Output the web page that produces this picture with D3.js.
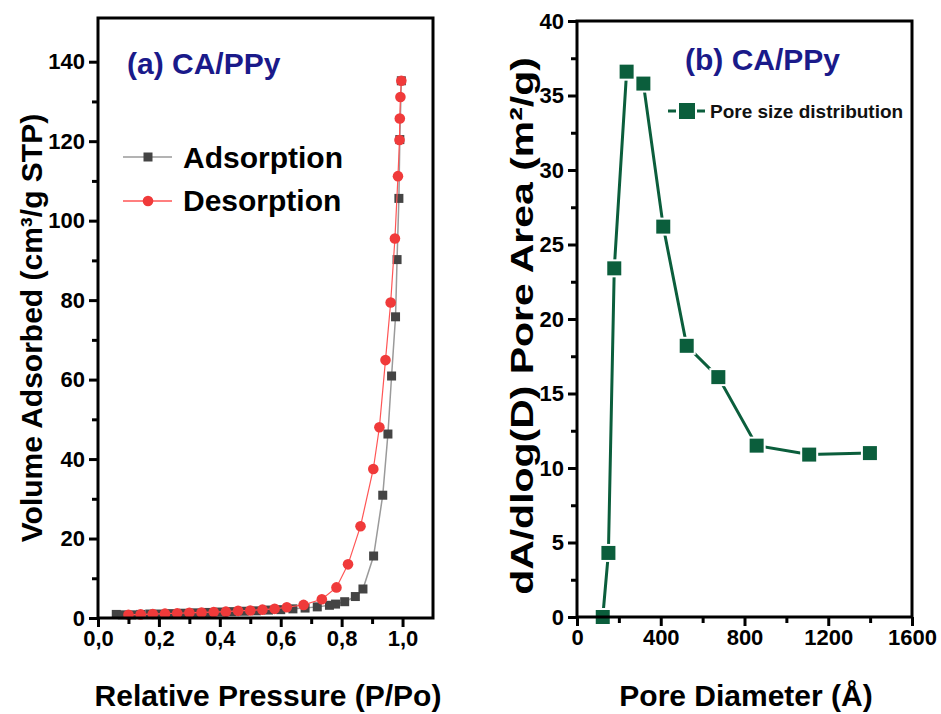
<!DOCTYPE html>
<html>
<head>
<meta charset="utf-8">
<script src="https://cdn.jsdelivr.net/npm/d3@7"></script>
<style>
  html, body { margin: 0; padding: 0; background: #fff; }
  svg { display: block; font-family: "Liberation Sans", Arial, sans-serif; }
</style>
</head>
<body>
<svg id="chart" width="941" height="714"></svg>
<script>
// Nitrogen isotherm of CA/PPy (panel a)
const adsP = [0.06, 0.08, 0.11, 0.14, 0.17, 0.20, 0.24, 0.28, 0.32, 0.36, 0.40, 0.44, 0.48, 0.52, 0.56, 0.60, 0.64, 0.68, 0.72, 0.76, 0.78, 0.81, 0.845, 0.87, 0.905, 0.935, 0.952, 0.964, 0.977, 0.982, 0.988, 0.991, 0.996];
const adsV = [0.9, 0.8, 0.8, 0.9, 1.0, 1.0, 1.1, 1.2, 1.3, 1.4, 1.5, 1.6, 1.7, 1.8, 2.0, 2.1, 2.3, 2.5, 2.8, 3.2, 3.5, 4.1, 5.4, 7.3, 15.6, 30.9, 46.3, 60.9, 75.8, 90.2, 105.6, 120.4, 135.2];
const desP = [0.10, 0.14, 0.18, 0.22, 0.26, 0.30, 0.34, 0.38, 0.42, 0.46, 0.50, 0.54, 0.58, 0.62, 0.675, 0.735, 0.783, 0.821, 0.862, 0.904, 0.924, 0.944, 0.961, 0.975, 0.985, 0.990, 0.991, 0.993, 0.996];
const desV = [0.8, 0.9, 1.0, 1.1, 1.2, 1.3, 1.4, 1.5, 1.6, 1.8, 1.9, 2.1, 2.3, 2.7, 3.3, 4.7, 7.7, 13.5, 23.1, 37.5, 48.0, 64.9, 79.4, 95.5, 111.2, 120.3, 125.7, 131.1, 135.2];

// Pore size distribution (panel b)
const poreDiam = [123, 150, 178, 237, 317, 412, 524, 675, 858, 1109, 1399];
const poreArea = [0.0, 4.3, 23.4, 36.6, 35.8, 26.2, 18.2, 16.1, 11.5, 10.9, 11.0];

// Tick values
const aXMajor = [0, 0.2, 0.4, 0.6, 0.8, 1.0];
const aXMinor = [0.1, 0.3, 0.5, 0.7, 0.9];
const aYMajor = [0, 20, 40, 60, 80, 100, 120, 140];
const aYMinor = [10, 30, 50, 70, 90, 110, 130];
const bXMajor = [0, 400, 800, 1200, 1600];
const bXMinor = [200, 600, 1000, 1400];
const bYMajor = [0, 5, 10, 15, 20, 25, 30, 35, 40];
const bYMinor = [2.5, 7.5, 12.5, 17.5, 22.5, 27.5, 32.5, 37.5];

const svg = d3.select("#chart");
const commaFmt = d3.formatLocale({decimal: ",", thousands: ".", grouping: [3], currency: ["", ""]}).format(".1f");

const AXIS_W = 3;
const TICK_FONT = "bold 22px 'Liberation Sans', Arial, sans-serif";
const LABEL_FONT = "bold 30px 'Liberation Sans', Arial, sans-serif";

function frame(g, x0, x1, y0, y1) {
  g.append("rect")
    .attr("x", x0).attr("y", y0)
    .attr("width", x1 - x0).attr("height", y1 - y0)
    .attr("fill", "none").attr("stroke", "#000").attr("stroke-width", AXIS_W);
}

function drawAxes(g, x, y, xMajor, xMinor, yMajor, yMinor, xFmt, yFmt) {
  const [xl, xr] = x.range();
  const [yb, yt] = y.range();
  // minor ticks (no labels)
  g.append("g").attr("transform", `translate(0,${yb})`)
    .call(d3.axisBottom(x).tickValues(xMinor).tickSize(6).tickFormat(""))
    .call(s => s.select(".domain").remove())
    .call(s => s.selectAll("line").attr("stroke-width", AXIS_W));
  g.append("g").attr("transform", `translate(${xl},0)`)
    .call(d3.axisLeft(y).tickValues(yMinor).tickSize(6).tickFormat(""))
    .call(s => s.select(".domain").remove())
    .call(s => s.selectAll("line").attr("stroke-width", AXIS_W));
  // major ticks with labels
  g.append("g").attr("transform", `translate(0,${yb})`)
    .call(d3.axisBottom(x).tickValues(xMajor).tickSize(9).tickPadding(3).tickFormat(xFmt))
    .call(s => s.select(".domain").remove())
    .call(s => s.selectAll("line").attr("stroke-width", AXIS_W))
    .call(s => s.selectAll("text").attr("fill", "#000").style("font", TICK_FONT));
  g.append("g").attr("transform", `translate(${xl},0)`)
    .call(d3.axisLeft(y).tickValues(yMajor).tickSize(9).tickPadding(4).tickFormat(yFmt))
    .call(s => s.select(".domain").remove())
    .call(s => s.selectAll("line").attr("stroke-width", AXIS_W))
    .call(s => s.selectAll("text").attr("fill", "#000").style("font", TICK_FONT));
  frame(g, xl, xr, yt, yb);
}

// ---------- Panel (a): isotherm ----------
const ga = svg.append("g");
const xa = d3.scaleLinear().domain([0, 1.1]).range([98, 433]);
const ya = d3.scaleLinear().domain([0, 151]).range([618, 18]);

const adsData = adsP.map((p, i) => ({p, v: adsV[i]}));
const desData = desP.map((p, i) => ({p, v: desV[i]}));
const lineA = d3.line().x(d => xa(d.p)).y(d => ya(d.v));

ga.append("path").datum(adsData).attr("d", lineA)
  .attr("fill", "none").attr("stroke", "#9a9a9a").attr("stroke-width", 1.5);
ga.append("g").selectAll("rect").data(adsData).join("rect")
  .attr("x", d => xa(d.p) - 4.5).attr("y", d => ya(d.v) - 4.5)
  .attr("width", 9).attr("height", 9).attr("fill", "#444");

ga.append("path").datum(desData).attr("d", lineA)
  .attr("fill", "none").attr("stroke", "#ff5555").attr("stroke-width", 1.2);
ga.append("g").selectAll("circle").data(desData).join("circle")
  .attr("cx", d => xa(d.p)).attr("cy", d => ya(d.v)).attr("r", 5.3)
  .attr("fill", "#f03a3a");

drawAxes(ga, xa, ya, aXMajor, aXMinor, aYMajor, aYMinor, d => commaFmt(d), d3.format("d"));

ga.append("text").attr("x", 127).attr("y", 74)
  .attr("fill", "#1a1a8a").style("font", LABEL_FONT)
  .text("(a) CA/PPy");

// legend (a)
const legA = ga.append("g");
legA.append("line").attr("x1", 123).attr("x2", 172).attr("y1", 157).attr("y2", 157)
  .attr("stroke", "#9a9a9a").attr("stroke-width", 1.5);
legA.append("rect").attr("x", 143.5).attr("y", 152.5).attr("width", 9).attr("height", 9).attr("fill", "#444");
legA.append("text").attr("x", 183).attr("y", 168).attr("fill", "#000")
  .style("font", LABEL_FONT).text("Adsorption");
legA.append("line").attr("x1", 123).attr("x2", 172).attr("y1", 201).attr("y2", 201)
  .attr("stroke", "#ff5555").attr("stroke-width", 1.5);
legA.append("circle").attr("cx", 148).attr("cy", 201).attr("r", 5.3).attr("fill", "#f03a3a");
legA.append("text").attr("x", 183).attr("y", 211).attr("fill", "#000")
  .style("font", LABEL_FONT).text("Desorption");

ga.append("text").attr("x", 268).attr("y", 706).attr("text-anchor", "middle")
  .attr("fill", "#000").style("font", LABEL_FONT)
  .text("Relative Pressure (P/Po)");
ga.append("text").attr("transform", "translate(42,328) rotate(-90)").attr("text-anchor", "middle")
  .attr("fill", "#000").style("font", LABEL_FONT)
  .text("Volume Adsorbed (cm³/g STP)");

// ---------- Panel (b): pore size distribution ----------
const gb = svg.append("g");
const xb = d3.scaleLinear().domain([0, 1600]).range([577, 912]);
const yb = d3.scaleLinear().domain([0, 40]).range([617, 21]);
const GREEN = "#0b5e3c";

const poreData = poreDiam.map((d, i) => ({d, a: poreArea[i]}));
gb.append("path").datum(poreData)
  .attr("d", d3.line().x(d => xb(d.d)).y(d => yb(d.a)))
  .attr("fill", "none").attr("stroke", GREEN).attr("stroke-width", 3);
gb.append("g").selectAll("rect").data(poreData).join("rect")
  .attr("x", d => xb(d.d) - 8).attr("y", d => yb(d.a) - 8)
  .attr("width", 16).attr("height", 16)
  .attr("fill", GREEN).attr("stroke", "#fff").attr("stroke-width", 2);

drawAxes(gb, xb, yb, bXMajor, bXMinor, bYMajor, bYMinor, d3.format("d"), d3.format("d"));

gb.append("text").attr("x", 685).attr("y", 70)
  .attr("fill", "#1a1a8a").style("font", LABEL_FONT)
  .text("(b) CA/PPy");

// legend (b)
const legB = gb.append("g");
legB.append("line").attr("x1", 668).attr("x2", 705).attr("y1", 111).attr("y2", 111)
  .attr("stroke", GREEN).attr("stroke-width", 3).attr("stroke-dasharray", "8,21,8");
legB.append("rect").attr("x", 679).attr("y", 103).attr("width", 16).attr("height", 16).attr("fill", GREEN);
legB.append("text").attr("x", 710).attr("y", 118).attr("fill", "#111")
  .style("font", "bold 19px 'Liberation Sans', Arial, sans-serif").text("Pore size distribution");

gb.append("text").attr("x", 746).attr("y", 706).attr("text-anchor", "middle")
  .attr("fill", "#000").style("font", LABEL_FONT)
  .text("Pore Diameter (Å)");
// the long right-hand axis title is drawn wider along its reading direction
gb.append("text").attr("transform", "translate(533,326) rotate(-90) scale(1.28,1)").attr("text-anchor", "middle")
  .attr("fill", "#000").style("font", "bold 32px 'Liberation Sans', Arial, sans-serif")
  .text("dA/dlog(D) Pore Area (m²/g)");
</script>
</body>
</html>
